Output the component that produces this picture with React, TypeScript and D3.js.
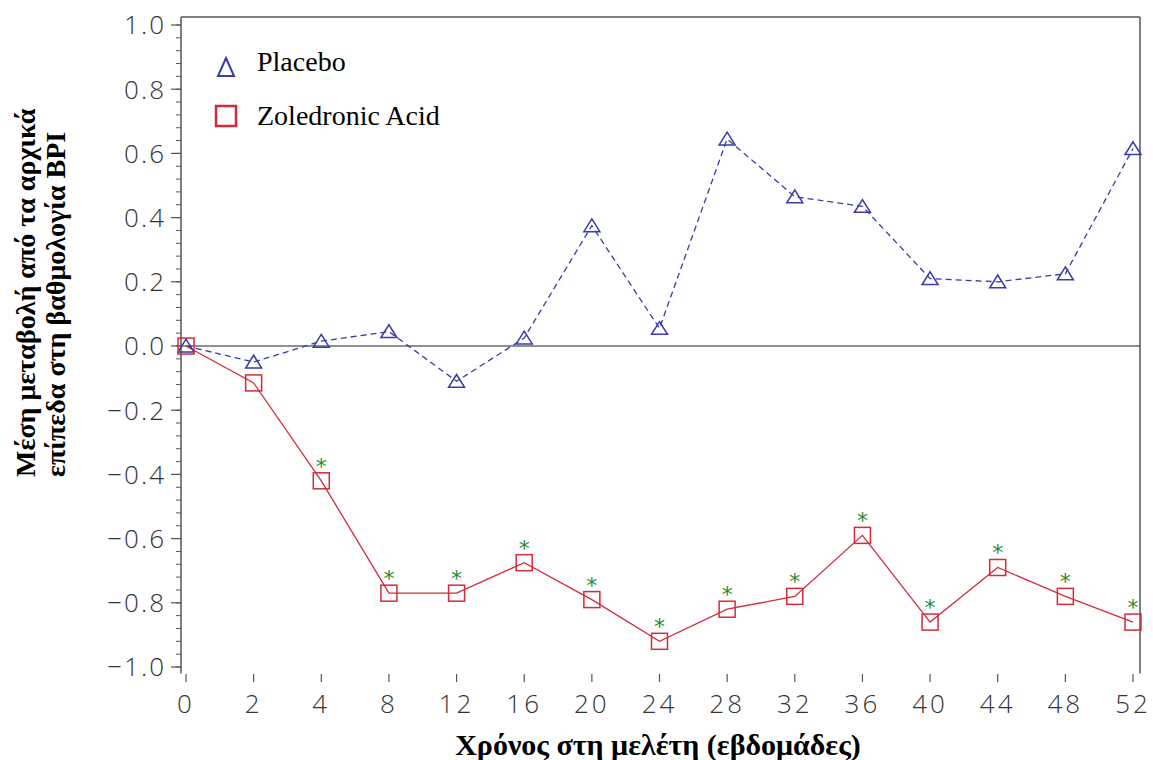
import React from "react";
import * as d3 from "d3";

const weeks = ["0", "2", "4", "8", "12", "16", "20", "24", "28", "32", "36", "40", "44", "48", "52"];
const placebo = [0.0, -0.05, 0.015, 0.045, -0.11, 0.025, 0.375, 0.055, 0.645, 0.465, 0.435, 0.21, 0.2, 0.225, 0.615];
const zoledronic = [0.0, -0.115, -0.42, -0.77, -0.77, -0.675, -0.79, -0.92, -0.82, -0.78, -0.59, -0.86, -0.69, -0.78, -0.86];
const significant = [false, false, true, true, true, true, true, true, true, true, true, true, true, true, true];
const yTicks = [1.0, 0.8, 0.6, 0.4, 0.2, 0.0, -0.2, -0.4, -0.6, -0.8, -1.0];
const yTitle1 = "Μέση μεταβολή από τα αρχικά";
const yTitle2 = "επίπεδα στη βαθμολογία BPI";
const xTitle = "Χρόνος στη μελέτη (εβδομάδες)";
const legendLabels = ["Placebo", "Zoledronic Acid"];

const W = 1153;
const H = 760;
const blue = "#3a3aa8";
const red = "#d42a3a";
const green = "#2a8a2a";
const axisCol = "#555";
const tickFont = "'Open Sans', sans-serif";
const serif = "'Liberation Serif', 'Times New Roman', serif";

export default function App() {
  const x = d3.scalePoint<string>().domain(weeks).range([186, 1133]);
  const y = d3.scaleLinear().domain([-1, 1]).range([667, 25]);
  const left = 181;
  const right = 1140;
  const top = y(1.025);
  const bottom = y(-1.02);

  const minor = d3.range(-1, 1.0001, 0.04).map((v) => Math.round(v * 100) / 100);
  const line = d3.line<number>().x((_, i) => x(weeks[i])!).y((d) => y(d));
  const fmt = (v: number) => (v < 0 ? "\u2212" : "") + Math.abs(v).toFixed(1);

  const tri = (cx: number, cy: number, s = 8) =>
    `M${cx},${cy - s * 0.85}L${cx + s},${cy + s * 0.75}L${cx - s},${cy + s * 0.75}Z`;

  return (
    <svg width={W} height={H} style={{ display: "block", position: "absolute", left: 0, top: 0, background: "#fff" }}>
      {/* frame */}
      <line x1={left} x2={left} y1={top} y2={bottom} stroke={axisCol} strokeWidth={1.5} />
      <line x1={left} x2={right} y1={top} y2={top} stroke={axisCol} strokeWidth={1.5} />
      <line x1={right} x2={right} y1={top} y2={bottom} stroke={axisCol} strokeWidth={1.5} />
      {/* minor ticks */}
      {minor.map((v, i) => (
        <line key={"m" + i} x1={left - 5} x2={left} y1={y(v)} y2={y(v)} stroke={axisCol} strokeWidth={1} />
      ))}
      {yTicks.map((v, i) => (
        <g key={"yt" + i}>
          <line x1={left - 10} x2={left} y1={y(v)} y2={y(v)} stroke={axisCol} strokeWidth={1.2} />
          <text x={166} y={y(v)} dy="0.36em" textAnchor="end" fontFamily={tickFont} fontWeight={300} fontSize={26} letterSpacing={2} fill="#333">
            {fmt(v)}
          </text>
        </g>
      ))}
      {weeks.map((w, i) => (
        <g key={"xt" + i}>
          <line x1={x(w)} x2={x(w)} y1={674} y2={682} stroke={axisCol} strokeWidth={1.2} />
          <text x={x(w)} y={713} textAnchor="middle" fontFamily={tickFont} fontWeight={300} fontSize={26} letterSpacing={3} fill="#333">
            {w}
          </text>
        </g>
      ))}
      {/* zero line */}
      <line x1={left} x2={right} y1={y(0)} y2={y(0)} stroke="#222" strokeWidth={1.2} />
      {/* series lines */}
      <path d={line(placebo)!} fill="none" stroke={blue} strokeWidth={1.3} strokeDasharray="6,4" />
      <path d={line(zoledronic)!} fill="none" stroke={red} strokeWidth={1.3} />
      {/* markers */}
      {placebo.map((v, i) => (
        <path key={"p" + i} d={tri(x(weeks[i])!, y(v))} fill="none" stroke={blue} strokeWidth={1.5} />
      ))}
      {zoledronic.map((v, i) => (
        <rect key={"z" + i} x={x(weeks[i])! - 8} y={y(v) - 8} width={16} height={16} fill="none" stroke={red} strokeWidth={1.5} />
      ))}
      {zoledronic.map((v, i) =>
        significant[i] ? (
          <text key={"s" + i} x={x(weeks[i])!} y={y(v) - 7} textAnchor="middle" fontFamily="'DejaVu Sans', sans-serif" fontSize={22} fill={green}>
            *
          </text>
        ) : null
      )}
      {/* legend */}
      <path d={`M226,58L234,76L218,76Z`} fill="none" stroke={blue} strokeWidth={2} />
      <text x={257} y={71} fontFamily={serif} fontSize={28} fill="#000">
        {legendLabels[0]}
      </text>
      <rect x={216} y={106} width={20} height={20} fill="none" stroke={red} strokeWidth={2.5} />
      <text x={257} y={125} fontFamily={serif} fontSize={28} fill="#000">
        {legendLabels[1]}
      </text>
      {/* axis titles */}
      <g transform={`translate(35,477) rotate(-90)`}>
        <text textAnchor="start" fontFamily={serif} fontWeight="bold" fontSize={28} fill="#000">
          {yTitle1}
        </text>
        <text x={0} y={30} textAnchor="start" fontFamily={serif} fontWeight="bold" fontSize={28} fill="#000">
          {yTitle2}
        </text>
      </g>
      <text x={658} y={755} textAnchor="middle" fontFamily={serif} fontWeight="bold" fontSize={30} fill="#000">
        {xTitle}
      </text>
    </svg>
  );
}
